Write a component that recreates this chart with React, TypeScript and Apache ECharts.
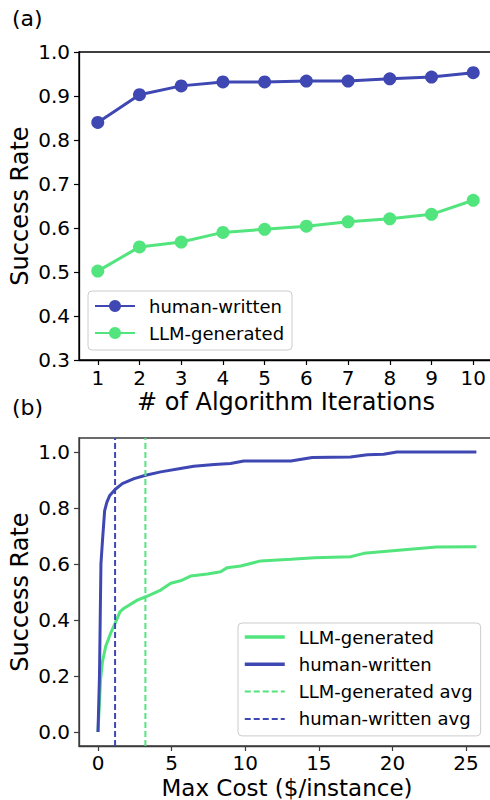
import React, { useEffect, useRef } from 'react';
import * as echarts from 'echarts';

// ---- Panel (a) data ----
const iterations = [1, 2, 3, 4, 5, 6, 7, 8, 9, 10];
const humanIter = [0.84, 0.903, 0.923, 0.932, 0.932, 0.934, 0.934, 0.939, 0.943, 0.953];
const llmIter = [0.502, 0.557, 0.568, 0.59, 0.597, 0.604, 0.614, 0.621, 0.631, 0.663];

// ---- Panel (b) data ----
const humanCost = [0, 0.1, 0.15, 0.2, 0.3, 0.45, 0.6, 0.8, 1.16, 1.65, 2.45, 3.24, 4.26, 5.6, 6.5, 7.9, 9.0, 9.9, 13.1, 14.55, 17.15, 18.3, 19.4, 20.3, 25.7];
const humanRate = [0, 0.2, 0.4, 0.6, 0.68, 0.79, 0.82, 0.845, 0.866, 0.887, 0.905, 0.917, 0.929, 0.941, 0.949, 0.955, 0.959, 0.968, 0.968, 0.98, 0.982, 0.99, 0.992, 1.0, 1.0];
const llmCost = [0, 0.18, 0.3, 0.52, 0.86, 1.16, 1.5, 1.77, 2.67, 3.24, 4.26, 4.94, 5.6, 6.29, 7.43, 8.33, 8.78, 9.69, 11.05, 13.1, 14.7, 17.15, 18.06, 21.0, 23.0, 25.7];
const llmRate = [0, 0.19, 0.25, 0.305, 0.353, 0.388, 0.43, 0.442, 0.471, 0.483, 0.507, 0.531, 0.54, 0.557, 0.564, 0.572, 0.587, 0.593, 0.611, 0.617, 0.622, 0.626, 0.638, 0.652, 0.661, 0.662];
const humanAvgCost = 1.16;
const llmAvgCost = 3.22;

// ---- Tick values ----
const iterTicks = [1, 2, 3, 4, 5, 6, 7, 8, 9, 10];
const costTicks = [0, 5, 10, 15, 20, 25];
const rateTicksB = [0, 0.2, 0.4, 0.6, 0.8, 1.0];

const BLUE = '#3F48B2';
const GREEN = '#52E47D';
const FONT = 'DejaVu Sans';

const zip = (xs: number[], ys: number[]) => xs.map((x, i) => [x, ys[i]]);

const axisTitle = (text: string, x: number, y: number, size: number, rotated: boolean) => ({
  type: 'text',
  x,
  y,
  rotation: rotated ? Math.PI / 2 : 0,
  silent: true,
  style: {
    text,
    fill: '#000',
    font: `${size}px "${FONT}"`,
    align: 'center',
    verticalAlign: 'middle',
    textAlign: 'center',
    textVerticalAlign: 'middle',
  },
});

export default function App() {
  const ref = useRef<HTMLDivElement>(null);
  useEffect(() => {
    if (!ref.current) return;
    const chart = echarts.init(ref.current, null, { renderer: 'svg' });
    const axisLabelBase = { color: '#000', fontSize: 20, fontFamily: FONT, margin: 8, lineHeight: 20 };
    const legendText = { color: '#000', fontSize: 18, fontFamily: FONT, lineHeight: 18, padding: [0, 0, 0, 9] };
    const strip = (n: string) => n.replace(/^b:/, '');
    chart.setOption({
      animation: false,
      textStyle: { fontFamily: FONT },
      title: [
        { text: '(a)', left: 12, top: 7, padding: 0, textStyle: { fontSize: 22, fontWeight: 'normal', color: '#000', fontFamily: FONT, lineHeight: 23 } },
        { text: '(b)', left: 12, top: 396, padding: 0, textStyle: { fontSize: 22, fontWeight: 'normal', color: '#000', fontFamily: FONT, lineHeight: 23 } },
      ],
      graphic: [
        axisTitle('Success Rate', 19.5, 206, 24, true),
        axisTitle('# of Algorithm Iterations', 286, 402, 24, false),
        axisTitle('Success Rate', 19.5, 592, 24, true),
        axisTitle('Max Cost ($/instance)', 287, 787.5, 23, false),
      ],
      grid: [
        { left: 79, top: 52, width: 413, height: 308, show: true, borderColor: '#000', borderWidth: 1.3, backgroundColor: 'transparent', containLabel: false, outerBoundsMode: 'none' },
        { left: 79, top: 438, width: 418, height: 308, show: true, borderColor: '#3b3b3b', borderWidth: 1.3, backgroundColor: 'transparent', containLabel: false, outerBoundsMode: 'none' },
      ],
      xAxis: [
        {
          gridIndex: 0, type: 'value', min: 0.55, max: 10.45,
          axisLine: { show: true, onZero: false, lineStyle: { color: '#000', width: 1.3 } },
          axisTick: { show: true, length: 5, lineStyle: { color: '#000', width: 1.2 }, customValues: iterTicks },
          axisLabel: { ...axisLabelBase, customValues: iterTicks, formatter: (v: number) => String(v) },
          splitLine: { show: false },
        },
        {
          gridIndex: 1, type: 'value', min: -1.29, max: 27.1,
          axisLine: { show: true, onZero: false, lineStyle: { color: '#3b3b3b', width: 1.3 } },
          axisTick: { show: true, length: 5, lineStyle: { color: '#3b3b3b', width: 1.2 }, customValues: costTicks },
          axisLabel: { ...axisLabelBase, margin: 7, customValues: costTicks, formatter: (v: number) => String(v) },
          splitLine: { show: false },
        },
      ],
      yAxis: [
        {
          gridIndex: 0, type: 'value', min: 0.3, max: 1.0, interval: 0.1,
          axisLine: { show: true, onZero: false, lineStyle: { color: '#000', width: 1.3 } },
          axisTick: { show: true, length: 5, lineStyle: { color: '#000', width: 1.2 } },
          axisLabel: { ...axisLabelBase, margin: 9, formatter: (v: number) => v.toFixed(1) },
          splitLine: { show: false },
        },
        {
          gridIndex: 1, type: 'value', min: -0.05, max: 1.05,
          axisLine: { show: true, onZero: false, lineStyle: { color: '#3b3b3b', width: 1.3 } },
          axisTick: { show: true, length: 5, lineStyle: { color: '#3b3b3b', width: 1.2 }, customValues: rateTicksB },
          axisLabel: { ...axisLabelBase, margin: 9, customValues: rateTicksB, formatter: (v: number) => v.toFixed(1) },
          splitLine: { show: false },
        },
      ],
      legend: [
        {
          data: ['human-written', 'LLM-generated'],
          orient: 'vertical', left: 88, top: 291,
          padding: [6, 8, 8, 6], itemWidth: 40, itemHeight: 15, itemGap: 9,
          textStyle: legendText, selectedMode: false,
          borderColor: '#cccccc', borderWidth: 1, borderRadius: 4, backgroundColor: 'rgba(255,255,255,0.8)',
        },
        {
          data: [
            { name: 'b:LLM-generated', lineStyle: { width: 3.5 } },
            { name: 'b:human-written', lineStyle: { width: 3.5 } },
            { name: 'b:LLM-generated avg', lineStyle: { width: 2 } },
            { name: 'b:human-written avg', lineStyle: { width: 2 } },
          ],
          formatter: strip,
          orient: 'vertical', left: 238, top: 623,
          padding: [5, 8, 8, 5], itemWidth: 40, itemHeight: 12, itemGap: 9.3,
          itemStyle: { opacity: 0 },
          textStyle: legendText, selectedMode: false,
          borderColor: '#cccccc', borderWidth: 1, borderRadius: 4, backgroundColor: 'rgba(255,255,255,0.8)',
        },
      ],
      series: [
        {
          name: 'human-written', type: 'line', xAxisIndex: 0, yAxisIndex: 0,
          data: zip(iterations, humanIter), symbol: 'circle', symbolSize: 13,
          lineStyle: { color: BLUE, width: 3 }, itemStyle: { color: BLUE },
        },
        {
          name: 'LLM-generated', type: 'line', xAxisIndex: 0, yAxisIndex: 0,
          data: zip(iterations, llmIter), symbol: 'circle', symbolSize: 13,
          lineStyle: { color: GREEN, width: 3 }, itemStyle: { color: GREEN },
        },
        {
          name: 'b:LLM-generated', type: 'line', xAxisIndex: 1, yAxisIndex: 1,
          data: zip(llmCost, llmRate), symbol: 'none', showSymbol: false,
          lineStyle: { color: GREEN, width: 3 }, itemStyle: { color: GREEN },
        },
        {
          name: 'b:human-written', type: 'line', xAxisIndex: 1, yAxisIndex: 1,
          data: zip(humanCost, humanRate), symbol: 'none', showSymbol: false,
          lineStyle: { color: BLUE, width: 3 }, itemStyle: { color: BLUE },
        },
        {
          name: 'b:LLM-generated avg', type: 'line', xAxisIndex: 1, yAxisIndex: 1,
          data: [[llmAvgCost, -0.05], [llmAvgCost, 1.05]], symbol: 'none', showSymbol: false,
          lineStyle: { color: GREEN, width: 2, type: [6, 3] }, itemStyle: { color: GREEN },
        },
        {
          name: 'b:human-written avg', type: 'line', xAxisIndex: 1, yAxisIndex: 1,
          data: [[humanAvgCost, -0.05], [humanAvgCost, 1.05]], symbol: 'none', showSymbol: false,
          lineStyle: { color: BLUE, width: 2, type: [6, 3] }, itemStyle: { color: BLUE },
        },
      ],
    });
    return () => chart.dispose();
  }, []);
  return (
    <div
      ref={ref}
      style={{ position: 'absolute', left: 0, top: 0, width: 490, height: 800, background: '#fff' }}
    />
  );
}
